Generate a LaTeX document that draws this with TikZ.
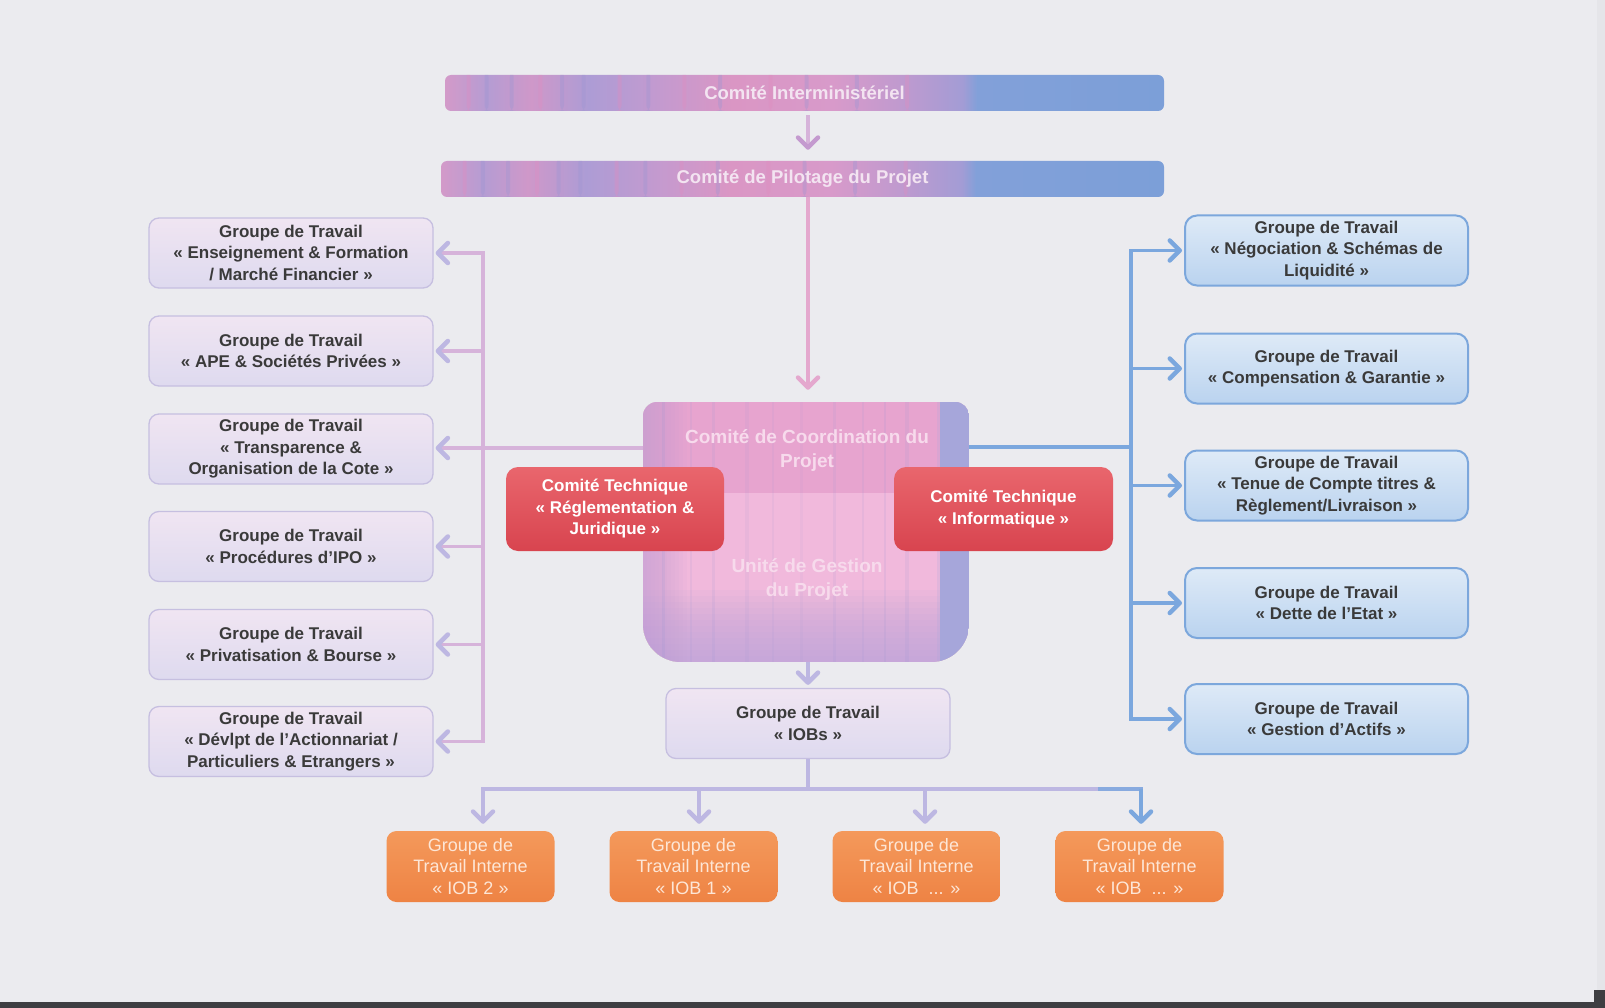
\documentclass[tikz,border=0pt]{standalone}
\usepackage{fontspec}
\setmainfont{Liberation Sans}
\usetikzlibrary{arrows.meta,calc}
\definecolor{bg}{HTML}{EBEBEF}
\definecolor{edge}{HTML}{E5E5E9}
\definecolor{txt}{HTML}{3A3A3A}
\definecolor{lavT}{HTML}{F0E5F2}
\definecolor{lavB}{HTML}{DEDAEF}
\definecolor{lavD}{HTML}{C6BFE0}
\definecolor{bluT}{HTML}{DEEAF7}
\definecolor{bluB}{HTML}{BAD3EF}
\definecolor{bluD}{HTML}{7CA7DC}
\definecolor{redT}{HTML}{E9666D}
\definecolor{redB}{HTML}{D8444F}
\definecolor{oraT}{HTML}{F4995B}
\definecolor{oraB}{HTML}{EE8344}
\definecolor{oraTxt}{HTML}{FDE6D6}
\definecolor{pinkC}{HTML}{E4A8CE}
\definecolor{lbusC}{HTML}{D6B3DA}
\definecolor{lavA}{HTML}{BDB7E2}
\definecolor{rbusC}{HTML}{7BA7DE}
\definecolor{barTxt}{HTML}{F3E4F1}
\definecolor{ccTop}{HTML}{E7A4CF}
\definecolor{ccLow}{HTML}{F1B9DC}
\definecolor{ccBot}{HTML}{B9A3D9}
\definecolor{ccEdge}{HTML}{C29FD6}
\definecolor{ccRight}{HTML}{A6A6DA}
\definecolor{ccTxt}{HTML}{F7DAEC}
\definecolor{stPu}{HTML}{9C96D2}
\definecolor{stPk}{HTML}{E08CC0}
\definecolor{scan}{HTML}{3E3E42}
\definecolor{sA}{HTML}{D39AC9}
\definecolor{sB}{HTML}{B59CD3}
\definecolor{sC}{HTML}{CF98C9}
\definecolor{sD}{HTML}{AD9CD5}
\definecolor{sE}{HTML}{C49ACF}
\definecolor{sF}{HTML}{DA96C4}
\definecolor{sG}{HTML}{D89ACA}
\definecolor{sH}{HTML}{BE9ACF}
\definecolor{sI}{HTML}{A39CD5}
\definecolor{sJ}{HTML}{82A0D9}
\definecolor{sK}{HTML}{7C9FD8}
\pgfdeclarehorizontalshading{barshade}{100bp}{color(0bp)=(sA); color(25bp)=(sA); color(28bp)=(sB); color(31bp)=(sC); color(35bp)=(sD); color(40bp)=(sE); color(45bp)=(sF); color(52bp)=(sG); color(57bp)=(sH); color(61bp)=(sI); color(62bp)=(sJ); color(75bp)=(sK); color(100bp)=(sK)}
\newcommand\bxfont{\fontsize{17}{21.5}\selectfont\bfseries}
\newcommand\rdfont{\fontsize{17}{21.5}\selectfont\bfseries}
\newcommand\orfont{\fontsize{18}{21.5}\selectfont}
\newcommand\brfont{\fontsize{18.5}{22}\selectfont\bfseries}
\newcommand\ccfont{\fontsize{19}{24}\selectfont\bfseries}
\tikzset{chev/.tip={Straight Barb[length=10pt,width=20pt,line width=4.5pt,round]}}
\begin{document}
\begin{tikzpicture}[x=1pt,y=-1pt,
 lbox/.style={draw=lavD, line width=1.3pt, rounded corners=10pt, top color=lavT, bottom color=lavB, minimum width=284pt, minimum height=70pt, align=center, text=txt, font=\bxfont, inner sep=2pt},
 rbox/.style={draw=bluD, line width=2pt, rounded corners=12pt, top color=bluT, bottom color=bluB, minimum width=283pt, minimum height=70pt, align=center, text=txt, font=\bxfont, inner sep=2pt},
 redbox/.style={rounded corners=12pt, top color=redT, bottom color=redB, minimum width=218pt, minimum height=84pt, align=center, text=white, font=\rdfont, inner sep=2pt},
 obox/.style={rounded corners=10pt, top color=oraT, bottom color=oraB, minimum width=168pt, minimum height=71pt, align=center, text=oraTxt, font=\orfont, inner sep=2pt},
 bar/.style={rounded corners=6pt, shading=barshade, minimum height=36pt, text=barTxt, font=\brfont,
   path picture={\foreach \p/\c in {0.03/stPk,0.055/stPu,0.09/stPu,0.13/stPk,0.16/stPu,0.19/stPu,0.24/stPk,0.28/stPu,0.33/stPk,0.38/stPu,0.45/stPk,0.5/stPu,0.57/stPu,0.64/stPk}
     \fill[\c,opacity=0.35] ($(path picture bounding box.south west)!\p!(path picture bounding box.south east)$) rectangle ++(4,-40);}},
 ctext/.style={text=ccTxt, font=\ccfont, align=center},
 conn/.style={line width=3.5pt},
]
\useasboundingbox (0,0) rectangle (1605,1008);
\fill[bg] (0,0) rectangle (1605,1008);
\fill[edge] (1597,0) rectangle (1605,1008);
\fill[scan] (0,1002) rectangle (1605,1008);
\fill[scan] (1594,990) rectangle (1605,1008);

% top bars
\node[bar, minimum width=719pt] (bar1) at (804.5,93) {Comité Interministériel};
\node[bar, minimum width=723pt] (bar2) at (802.5,179) {Comité de Pilotage du Projet};

% central block
\node[minimum width=326pt, minimum height=260pt, inner sep=0pt] (ccp) at (806,532) {};
\begin{scope}
 \clip[rounded corners=14pt] (643,402) rectangle (969,600) {[rounded corners=38pt] (643,460) rectangle (969,662)};
 \fill[ccTop] (643,402) rectangle (969,493);
 \fill[ccLow] (643,493) rectangle (969,662);
 \foreach \h in {6,12,...,72} \fill[ccBot,opacity=0.09] (643,662) rectangle (969,{662-\h});
 \foreach \w in {4,8,...,44} \fill[ccEdge,opacity=0.08] (643,402) rectangle ({643+\w},662);
 \foreach \x/\w/\o in {662/3/.18,690/2/.12,712/3/.14,745/4/.10,772/2/.10,800/3/.08,833/3/.12,862/2/.12,884/2/.15,905/4/.14}
   \fill[stPu,opacity=\o] (\x,402) rectangle ({\x+\w},662);
 \foreach \w in {4,8,...,20} \fill[ccRight,opacity=0.2] ({969-\w-12},402) rectangle (969,662);
 \fill[ccRight] (940,402) rectangle (969,662);
\end{scope}
\node[ctext] (cct) at (807,451) {Comité de Coordination du\\Projet};
\node[ctext] (ugp) at (807,579) {Unité de Gestion\\du Projet};

% left groups
\node[lbox] (L1) at (291,253) {Groupe de Travail\\« Enseignement \& Formation\\/ Marché Financier »};
\node[lbox] (L2) at (291,351) {Groupe de Travail\\« APE \& Sociétés Privées »};
\node[lbox] (L3) at (291,449) {Groupe de Travail\\« Transparence \&\\Organisation de la Cote »};
\node[lbox] (L4) at (291,546.5) {Groupe de Travail\\« Procédures d’IPO »};
\node[lbox] (L5) at (291,644.5) {Groupe de Travail\\« Privatisation \& Bourse »};
\node[lbox] (L6) at (291,741.5) {Groupe de Travail\\« Dévlpt de l’Actionnariat /\\Particuliers \& Etrangers »};

% right groups
\node[rbox] (R1) at (1326.5,250.5) {Groupe de Travail\\« Négociation \& Schémas de\\Liquidité »};
\node[rbox] (R2) at (1326.5,368.5) {Groupe de Travail\\« Compensation \& Garantie »};
\node[rbox] (R3) at (1326.5,485.5) {Groupe de Travail\\« Tenue de Compte titres \&\\Règlement/Livraison »};
\node[rbox] (R4) at (1326.5,603) {Groupe de Travail\\« Dette de l’Etat »};
\node[rbox] (R5) at (1326.5,719) {Groupe de Travail\\« Gestion d’Actifs »};

% IOBs
\node[lbox] (IOB) at (808,723.5) {Groupe de Travail\\« IOBs »};

% orange
\node[obox] (O1) at (470.5,866.5) {Groupe de\\Travail Interne\\« IOB 2 »};
\node[obox] (O2) at (693.5,866.5) {Groupe de\\Travail Interne\\« IOB 1 »};
\node[obox] (O3) at (916.5,866.5) {Groupe de\\Travail Interne\\« IOB~~... »};
\node[obox] (O4) at (1139.5,866.5) {Groupe de\\Travail Interne\\« IOB~~... »};

% coordinates for buses
\coordinate (lbus) at (483,448);
\coordinate (rj) at (1131,447);
\coordinate (d1) at (483,789);
\coordinate (d2) at (699,789);
\coordinate (d3) at (925,789);
\coordinate (d4) at (1141,789);
\coordinate (dm) at (1100,789);
\coordinate (vx) at (808,0);

% top connectors
\draw[conn, color=lbusC, -{chev[color=sE]}, shorten <=4pt, shorten >=11pt] (bar1.south -| vx) -- (bar2.north -| vx);
\draw[conn, color=pinkC, -{chev}, shorten >=12pt] (bar2.south -| vx) -- (ccp.north -| vx);

% left bus
\draw[conn, color=lbusC, line cap=rect] (lbus |- L1.east) -- (lbus |- L6.east);
\draw[conn, color=lbusC, -{chev[color=lavA]}, shorten >=2pt] (ccp.west |- lbus) -- (L3.east |- lbus);
\foreach \n in {L1,L2,L4,L5,L6}
  \draw[conn, color=lbusC, -{chev[color=lavA]}, shorten >=2pt] (lbus |- \n.east) -- (\n.east);

% right bus
\draw[conn, color=rbusC, line cap=rect] (rj |- R1.west) -- (rj |- R5.west);
\draw[conn, color=rbusC] (ccp.east |- rj) -- (rj);
\foreach \n in {R1,R2,R3,R4,R5}
  \draw[conn, color=rbusC, -{chev}, shorten >=2pt] (rj |- \n.west) -- (\n.west);

% red boxes (in front)
\node[redbox] (CTL) at (615,509) {Comité Technique\\« Réglementation \&\\Juridique »};
\node[redbox, minimum width=219pt] (CTR) at (1003.5,509) {Comité Technique\\« Informatique »};

% IOB connectors
\draw[conn, color=lavA, -{chev}, shorten >=3pt] (ccp.south -| vx) -- (IOB.north -| vx);
\draw[conn, color=lavA] (IOB.south) -- (IOB.south |- d1);
\draw[conn, color=lavA, line cap=rect] (d1) -- (dm);
\draw[conn, color=rbusC!80!lavA, line cap=rect] (dm) -- (d4);
\draw[conn, color=lavA, -{chev}, shorten >=7pt] (d1) -- (d1 |- O1.north);
\draw[conn, color=lavA, -{chev}, shorten >=7pt] (d2) -- (d2 |- O2.north);
\draw[conn, color=lavA, -{chev}, shorten >=7pt] (d3) -- (d3 |- O3.north);
\draw[conn, color=rbusC, -{chev}, shorten >=7pt] (d4) -- (d4 |- O4.north);
\end{tikzpicture}
\end{document}
